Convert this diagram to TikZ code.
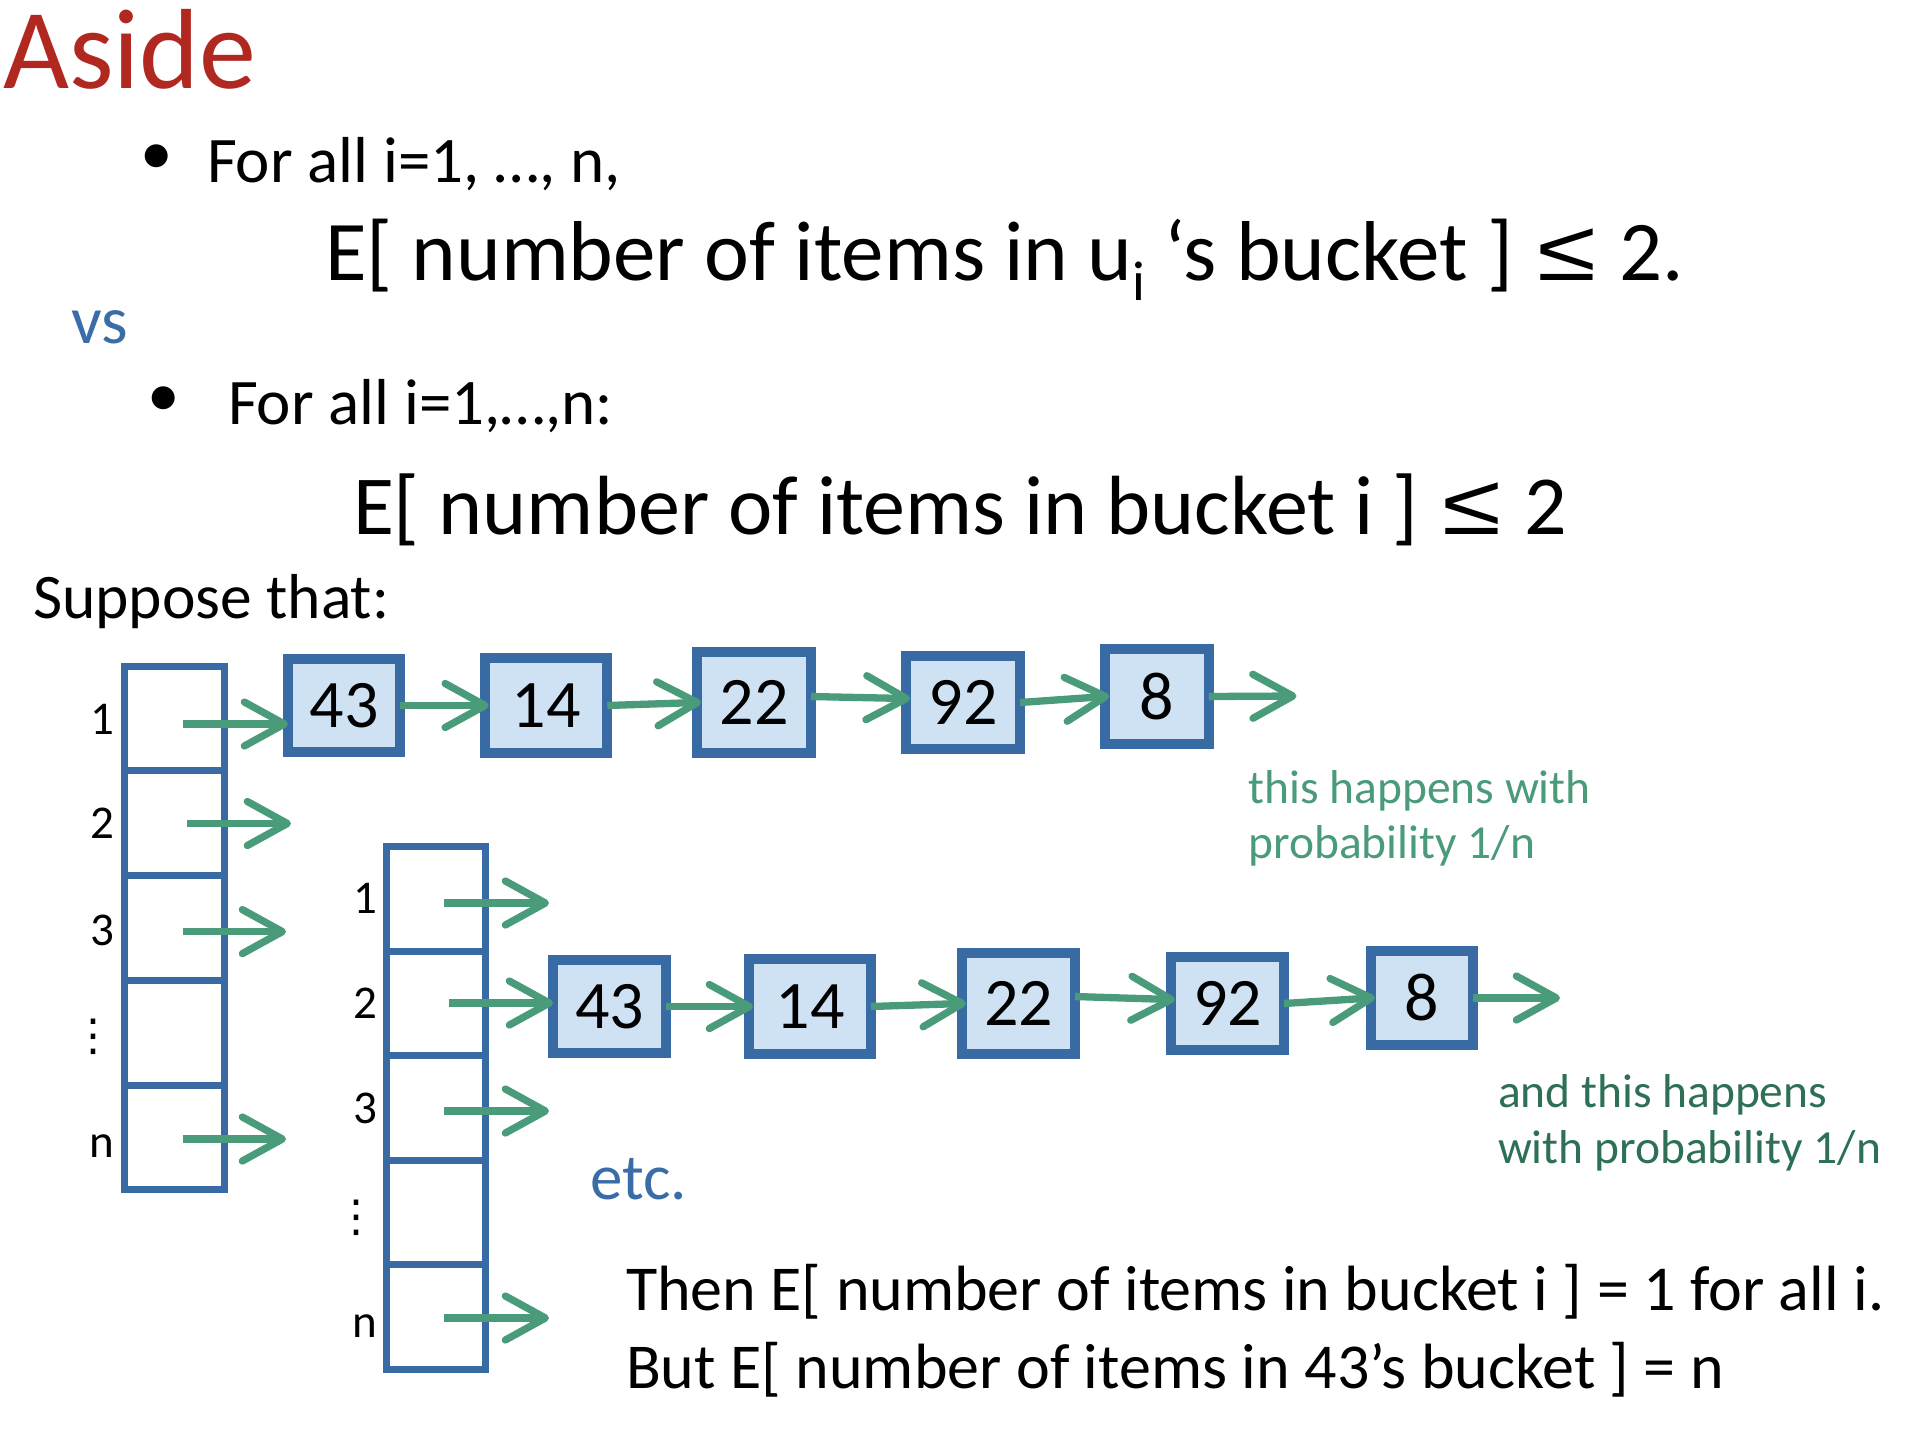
\documentclass[tikz,border=0pt]{standalone}
\usepackage{fontspec}
\usepackage{graphicx}
\setmainfont{Carlito}
\newfontfamily\dejavu{DejaVu Sans}
\newfontfamily\libsans{Liberation Sans}
\usetikzlibrary{arrows.meta}
\definecolor{titlered}{RGB}{176,40,32}
\definecolor{tblue}{RGB}{58,108,168}
\definecolor{bblue}{RGB}{56,107,164}
\definecolor{bfill}{RGB}{207,226,243}
\definecolor{agreen}{RGB}{74,155,122}
\definecolor{dgreen}{RGB}{46,112,85}
\newcommand{\fsz}[1]{\fontsize{#1}{#1}\selectfont}
\newcommand{\myleq}{\kern5pt\scalebox{1.25}[1]{\libsans\fontsize{86}{86}\selectfont ≤}\kern4pt}
\begin{document}
\begin{tikzpicture}[x=1pt,y=-1pt,
  txt/.style={anchor=base west,inner sep=0pt,outer sep=0pt},
  cell/.style={draw=bblue,line width=7pt,fill=white,inner sep=0pt,outer sep=0pt,minimum height=104.7pt},
  item/.style={draw=bblue,fill=bfill,line width=10pt,inner sep=0pt,outer sep=0pt,font=\fsz{68}},
  lbl/.style={anchor=base,inner sep=0pt,font=\fsz{47}},
  vdots/.style={inner sep=0pt,font=\dejavu\fsz{44}},
  arr/.style={draw=agreen,line width=7.3pt,-{Straight Barb[length=40pt,width=44pt,round]}},
  link/.style={arr,shorten >=-4pt},
]
\useasboundingbox (0,0) rectangle (1908,1430);

% ---- texts ----
\node[txt,text=titlered,font=\fsz{114}] (title) at (3,88) {Aside};
\node[inner sep=0pt,font=\fsz{65}] (bul1) at (157,160) {•};
\node[txt,font=\fsz{65}] (line1) at (207,182) {For all i=1, …, n,};
\node[txt,font=\fsz{85}] (form1) at (325,280) {E[ number of items in u\raisebox{-20pt}{\fsz{56}i} ‘s bucket ] \myleq{} 2.};
\node[txt,text=tblue,font=\fsz{68}] (vs) at (71,343) {vs};
\node[inner sep=0pt,font=\fsz{65}] (bul2) at (164,402) {•};
\node[txt,font=\fsz{65}] (line2) at (228,424) {For all i=1,…,n:};
\node[txt,font=\fsz{84}] (form2) at (353,534) {E[ number of items in bucket i ] \myleq{} 2};
\node[txt,font=\fsz{63.5}] (supp) at (33,618) {Suppose that:};

% ---- array 1 ----
\foreach \i in {1,...,5}
  \node[cell,minimum width=99.5pt] (A\i) at (174.7,{666+104.8*(\i-0.5)}) {};
\node[lbl] (la1) at (102,734) {1};
\node[lbl] (la2) at (102,838) {2};
\node[lbl] (la3) at (102,945) {3};
\node[vdots] (lad) at (93,1037) {⋮};
\node[lbl] (lan) at (102,1157) {n};

% ---- array 2 ----
\foreach \i in {1,...,5}
  \node[cell,minimum width=98.5pt] (B\i) at (436.2,{846.5+104.6*(\i-0.5)}) {};
\node[lbl] (lb1) at (365,913) {1};
\node[lbl] (lb2) at (365,1018) {2};
\node[lbl] (lb3) at (365,1123) {3};
\node[vdots] (lbd) at (356,1218) {⋮};
\node[lbl] (lbn) at (365,1337) {n};

% ---- chain 1 ----
\node[item,minimum width=112pt,minimum height=93pt] (c1) at (344,705.5) {43};
\node[item,minimum width=122.5pt,minimum height=95pt] (c2) at (546,705.5) {14};
\node[item,minimum width=114pt,minimum height=101pt] (c3) at (754,702.5) {22};
\node[item,minimum width=114pt,minimum height=93pt] (c4) at (963,702.5) {92};
\node[item,minimum width=103.5pt,minimum height=95pt] (c5) at (1157,696.5) {8};
\coordinate (c6) at (1296.5,696);

% ---- chain 2 ----
\node[item,minimum width=113pt,minimum height=93pt] (d1) at (609.5,1006.5) {43};
\node[item,minimum width=122pt,minimum height=95pt] (d2) at (810,1006.5) {14};
\node[item,minimum width=113pt,minimum height=101pt] (d3) at (1018.5,1003.5) {22};
\node[item,minimum width=113pt,minimum height=93pt] (d4) at (1227.5,1003.5) {92};
\node[item,minimum width=102pt,minimum height=94pt] (d5) at (1422,998) {8};
\coordinate (d6) at (1560,998);

% ---- arrows from array 1 ----
\coordinate (sa1) at (182.6,724);
\coordinate (sa2) at (187,823.5);  \coordinate (ea2) at (291,823.5);
\coordinate (sa3) at (182.5,931.6); \coordinate (ea3) at (286,931.6);
\coordinate (san) at (182.5,1139);  \coordinate (ean) at (286,1139);
\draw[arr] (sa1) -- (sa1 -| c1.west);
\draw[arr] (sa2) -- (ea2);
\draw[arr] (sa3) -- (ea3);
\draw[arr] (san) -- (ean);

% ---- arrows from array 2 ----
\coordinate (sb1) at (444,903);  \coordinate (eb1) at (549,903);
\coordinate (sb2) at (449,1003);
\coordinate (sb3) at (444,1111); \coordinate (eb3) at (549,1111);
\coordinate (sbn) at (444,1318); \coordinate (ebn) at (549,1318);
\draw[arr] (sb1) -- (eb1);
\draw[arr] (sb2) -- (sb2 -| d1.west);
\draw[arr] (sb3) -- (eb3);
\draw[arr] (sbn) -- (ebn);

% ---- chain links ----
\draw[link] (c1.east) -- (c2.west);
\draw[link] (c2.east) -- (c3.west);
\draw[link] ([yshift=6pt]c3.east) -- ([yshift=4pt]c4.west);
\draw[link] (c4.east) -- (c5.west);
\draw[arr] (c5.east) -- (c6);
\draw[link] (d1.east) -- (d2.west);
\draw[link] (d2.east) -- (d3.west);
\draw[link] ([yshift=7pt]d3.east) -- ([yshift=4pt]d4.west);
\draw[link] (d4.east) -- (d5.west);
\draw[arr] (d5.east) -- (d6);

% ---- notes ----
\node[txt,text=agreen,font=\fsz{47.5}] (n1a) at (1248.5,803) {this happens with};
\node[txt,text=agreen,font=\fsz{47.5}] (n1b) at (1248.5,858) {probability 1/n};
\node[txt,text=dgreen,font=\fsz{47.5}] (n2a) at (1498,1107) {and this happens};
\node[txt,text=dgreen,font=\fsz{47.5}] (n2b) at (1498,1163) {with probability 1/n};
\node[txt,text=tblue,font=\fsz{65}] (etc) at (590,1199) {etc.};
\node[txt,font=\fsz{64}] (then) at (626,1310) {Then E[ number of items in bucket i ] = 1 for all i.};
\node[txt,font=\fsz{64}] (but) at (626,1388) {But E[ number of items in 43’s bucket ] = n};
\end{tikzpicture}
\end{document}
